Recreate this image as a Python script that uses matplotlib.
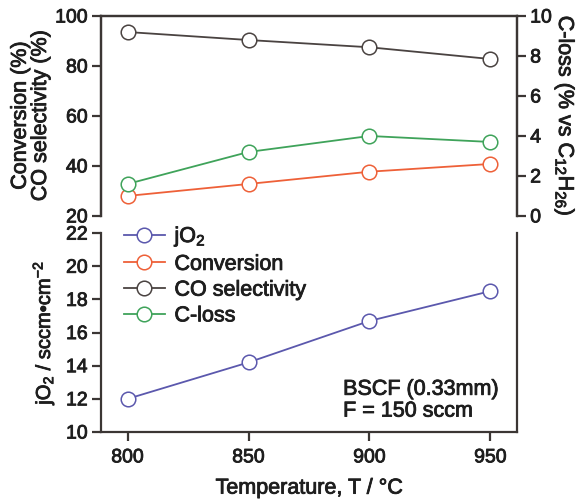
import matplotlib
matplotlib.use('Agg')
import matplotlib.pyplot as plt
import matplotlib.patheffects as pe

plt.rcParams['font.family'] = ['Liberation Sans', 'DejaVu Sans']
plt.rcParams['mathtext.fontset'] = 'custom'
plt.rcParams['mathtext.rm'] = 'Liberation Sans'
plt.rcParams['mathtext.it'] = 'Liberation Sans'
plt.rcParams['mathtext.default'] = 'regular'

# data
temperature = [800, 850, 900, 950]
jo2 = [12.0, 14.2, 16.7, 18.5]
conversion = [28.0, 32.8, 37.7, 40.8]
co_selectivity = [93.6, 90.4, 87.5, 82.8]
c_loss = [1.6, 3.2, 4.0, 3.7]

c_jo2 = '#5b58ad'
c_conv = '#ee6038'
c_co = '#4a4341'
c_loss_col = '#3fa35a'
axcol = '#3b3634'
txtcol = '#1e1e1e'
fs_tick = 14
fs = 15.5
bold_ish = [pe.withStroke(linewidth=0.6, foreground=txtcol)]

fig = plt.figure(figsize=(5.79, 5.01), dpi=100)
ax_top = fig.add_axes([0.1744, 0.569, 0.7185, 0.399])
ax_bot = fig.add_axes([0.1744, 0.1377, 0.7185, 0.397])
ax_r = ax_top.twinx()

mk = dict(marker='o', markersize=10.5, markerfacecolor='white', markeredgewidth=1.1, linewidth=1.3)

ax_top.plot(temperature, co_selectivity, color=c_co, **mk)
ax_top.plot(temperature, conversion, color=c_conv, **mk)
ax_r.plot(temperature, c_loss, color=c_loss_col, **mk)
ax_bot.plot(temperature, jo2, color=c_jo2, **mk)

for ax in (ax_top, ax_bot, ax_r):
    ax.set_xlim(789, 961)
    for s in ax.spines.values():
        s.set_color(axcol)
        s.set_linewidth(1.6)
    ax.tick_params(colors=axcol, labelcolor=txtcol, width=1.6, length=6.5, pad=3,
                   labelsize=fs_tick, direction='out')

ax_top.set_ylim(20, 100)
ax_top.set_yticks([20, 40, 60, 80, 100])
ax_top.spines['bottom'].set_visible(False)
ax_top.tick_params(axis='x', bottom=False, labelbottom=False)
ax_top.set_ylabel('Conversion (%)\nCO selectivity (%)', fontsize=fs, linespacing=0.95,
                  labelpad=3, color=txtcol)

ax_r.set_ylim(0, 10)
ax_r.set_yticks([0, 2, 4, 6, 8, 10])
ax_r.spines['bottom'].set_visible(False)
ax_r.set_ylabel('C-loss (% vs C$_{12}$H$_{26}$)', fontsize=fs, rotation=270, labelpad=18,
                color=txtcol)

ax_bot.set_ylim(10, 22)
ax_bot.set_yticks([10, 12, 14, 16, 18, 20, 22])
ax_bot.set_xticks(temperature)
ax_bot.tick_params(axis='x', pad=6)
ax_bot.spines['top'].set_visible(False)
ax_bot.set_ylabel('jO$_2$ / sccm\u2022cm$^{-2}$', fontsize=14.5, labelpad=7, color=txtcol)
ax_bot.set_xlabel('Temperature, T / \u00b0C', fontsize=fs, labelpad=8, color=txtcol)

note = ax_bot.text(0.582, 0.16, 'BSCF (0.33mm)\nF = 150 sccm', transform=ax_bot.transAxes,
                   fontsize=fs, ha='left', va='center', linespacing=1.05, color=txtcol)

handles = [
    plt.Line2D([], [], color=c_jo2, **mk),
    plt.Line2D([], [], color=c_conv, **mk),
    plt.Line2D([], [], color=c_co, **mk),
    plt.Line2D([], [], color=c_loss_col, **mk),
]
labels = ['jO$_2$', 'Conversion', 'CO selectivity', 'C-loss']
leg = ax_bot.legend(handles, labels, loc='upper left', bbox_to_anchor=(0.055, 1.045), frameon=False,
                    fontsize=fs, handlelength=1.9, handletextpad=0.45, labelspacing=0.22,
                    borderpad=0, borderaxespad=0)

# slightly heavier text, like the scanned figure
texts = [note] + list(leg.get_texts())
for ax in (ax_top, ax_bot, ax_r):
    texts += ax.get_xticklabels() + ax.get_yticklabels()
    texts += [ax.xaxis.label, ax.yaxis.label]
for t in texts:
    t.set_color(txtcol)
    t.set_path_effects(bold_ish)

fig.savefig('out.png', dpi=100)
